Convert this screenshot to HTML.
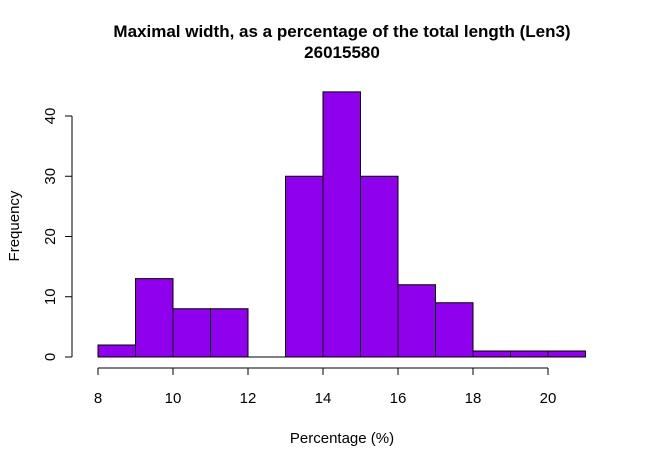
<!DOCTYPE html>
<html><head><meta charset="utf-8"><style>
body{margin:0;background:#fff;}
svg text{font-family:"Liberation Sans",Arial,sans-serif;fill:#000;}
</style></head><body>
<svg width="647" height="466" id="chart">
<text x="342" y="37" text-anchor="middle" font-size="17" font-weight="bold">Maximal width, as a percentage of the total length (Len3)</text>
<text x="342" y="58" text-anchor="middle" font-size="17" font-weight="bold">26015580</text>
<text x="342" y="443" text-anchor="middle" font-size="15">Percentage (%)</text>
<text transform="translate(19,226) rotate(-90)" text-anchor="middle" font-size="15">Frequency</text>
<g id="bars"></g><g id="xaxis"></g><g id="yaxis"></g>
</svg>
<script>
const binStarts=[8,9,10,11,12,13,14,15,16,17,18,19,20];
const counts=[2,13,8,8,0,30,44,30,12,9,1,1,1];
const xTicks=[8,10,12,14,16,18,20];
const yTicks=[0,10,20,30,40];
const NS="http://www.w3.org/2000/svg";
function sx(v){return 98+(v-8)*37.5;}
function sy(v){return 357-v*6.025;}
function mk(t,a,p){const e=document.createElementNS(NS,t);for(const k in a)e.setAttribute(k,a[k]);p.appendChild(e);return e;}
const bars=document.getElementById('bars');
binStarts.forEach((b,i)=>{
 const x0=sx(b),x1=sx(b+1),y0=sy(0),y1=sy(counts[i]);
 const r=mk('path',{d:`M${x0},${y0}L${x0},${y1}L${x1},${y1}L${x1},${y0}Z`,fill:'#8F00EC',stroke:'#000','stroke-width':1},bars);
 
 
});
const xa=document.getElementById('xaxis');
mk('line',{x1:sx(xTicks[0]),x2:sx(xTicks[xTicks.length-1]),y1:368,y2:368,stroke:'#000'},xa);
xTicks.forEach(t=>{
 mk('line',{x1:sx(t),x2:sx(t),y1:368,y2:375,stroke:'#000'},xa);
 const tx=mk('text',{x:sx(t),y:403,'text-anchor':'middle','font-size':15},xa);
 tx.textContent=t;
 
 
});
const ya=document.getElementById('yaxis');
mk('line',{x1:72,x2:72,y1:sy(yTicks[0]),y2:sy(yTicks[yTicks.length-1]),stroke:'#000'},ya);
yTicks.forEach(t=>{
 mk('line',{x1:65,x2:72,y1:sy(t),y2:sy(t),stroke:'#000'},ya);
 const tx=mk('text',{transform:`translate(55,${sy(t)}) rotate(-90)`,'text-anchor':'middle','font-size':15},ya);
 tx.textContent=t;
 
 
});
</script>
</body></html>
